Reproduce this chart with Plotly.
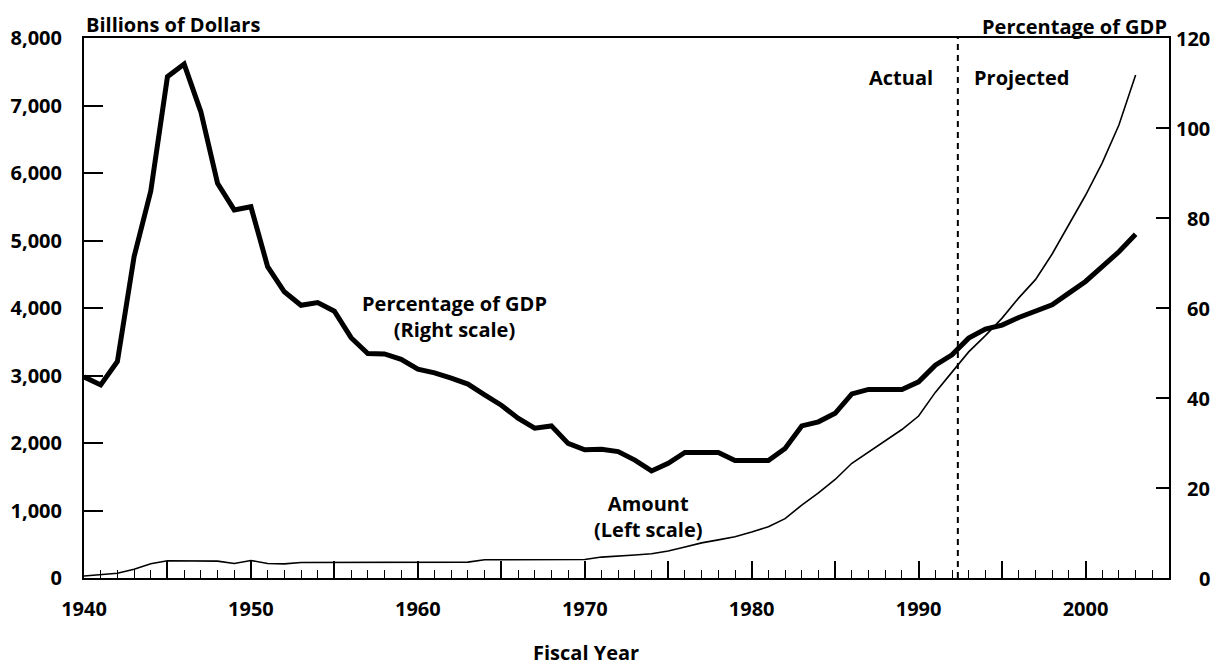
import plotly.graph_objects as go

years = list(range(1940, 2004))

pct_gdp = [44.7, 42.9, 48.1, 71.4, 86.0, 111.4, 114.2, 103.6, 87.7, 81.8,
           82.5, 69.2, 63.6, 60.6, 61.2, 59.3, 53.4, 49.9, 49.8, 48.6,
           46.4, 45.6, 44.4, 43.1, 40.7, 38.4, 35.5, 33.3, 33.8, 29.9,
           28.5, 28.6, 28.1, 26.2, 23.8, 25.5, 27.9, 27.9, 27.9, 26.1,
           26.1, 26.1, 28.8, 33.8, 34.7, 36.6, 40.9, 41.9, 41.9, 41.9,
           43.6, 47.3, 49.6, 53.3, 55.3, 56.2, 57.9, 59.3, 60.7, 63.3,
           65.9, 69.2, 72.5, 76.4]

amount = [30, 45, 70, 130, 210, 255, 250, 250, 250, 215,
          260, 215, 210, 230, 230, 230, 230, 230, 230, 230,
          230, 230, 230, 235, 270, 270, 270, 270, 270, 270,
          275, 310, 320, 340, 360, 400, 460, 520, 565, 610,
          680, 760, 880, 1080, 1260, 1460, 1700, 1870, 2040, 2200,
          2400, 2750, 3050, 3350, 3590, 3850, 4150, 4420, 4800, 5230,
          5670, 6150, 6710, 7450]

x_major_ticks = list(range(1940, 2006, 5))
x_tick_labels = [str(v) if v % 10 == 0 else "" for v in x_major_ticks]
left_ticks = [0, 1000, 2000, 3000, 4000, 5000, 6000, 7000, 8000]
left_tick_labels = ["0", "1,000", "2,000", "3,000", "4,000", "5,000", "6,000", "7,000", "8,000"]
right_ticks = [0, 20, 40, 60, 80, 100, 120]
right_tick_labels = ["0", "20", "40", "60", "80", "100", "120"]
split_year = 1992.35

FONT = "Open Sans"
FS = 20

fig = go.Figure()
fig.add_trace(go.Scatter(x=years, y=amount, mode="lines", yaxis="y",
                         line=dict(color="black", width=1.6), showlegend=False))
fig.add_trace(go.Scatter(x=years, y=pct_gdp, mode="lines", yaxis="y2",
                         line=dict(color="black", width=5), showlegend=False))

fig.update_layout(
    width=1216, height=666,
    margin=dict(l=84, r=47, t=38, b=88),
    paper_bgcolor="white", plot_bgcolor="white",
    font=dict(family=FONT, size=FS, color="black", weight="bold"),
    showlegend=False,
    xaxis=dict(range=[1940, 2005], tickvals=x_major_ticks, ticktext=x_tick_labels,
               ticks="inside", ticklen=17, tickwidth=1.6, tickcolor="black",
               minor=dict(dtick=1, tick0=1940, ticks="inside", ticklen=8, tickwidth=1.4, tickcolor="black"),
               showline=True, linecolor="black", linewidth=2, mirror=True,
               showgrid=False, zeroline=False, ticklabelstandoff=12,
               tickfont=dict(family=FONT, size=FS, weight="bold")),
    yaxis=dict(range=[0, 8000], tickvals=left_ticks, ticktext=left_tick_labels,
               ticks="inside", ticklen=19, tickwidth=1.6, tickcolor="black",
               showline=True, linecolor="black", linewidth=2, mirror=True,
               showgrid=False, zeroline=False, ticklabelstandoff=16,
               tickfont=dict(family=FONT, size=FS, weight="bold")),
    yaxis2=dict(range=[0, 120], overlaying="y", side="right", tickvals=right_ticks,
                showticklabels=False,
                ticks="inside", ticklen=13, tickwidth=1.6, tickcolor="black",
                showline=True, linecolor="black", linewidth=2,
                showgrid=False, zeroline=False),
)

fig.add_shape(type="line", xref="x", yref="paper", x0=split_year, x1=split_year, y0=0, y1=1,
              line=dict(color="black", width=2, dash="6px,5px"))

ann = []
for v, t in zip(right_ticks, right_tick_labels):
    ann.append(dict(xref="paper", yref="y2", x=1, y=v, xanchor="right", yanchor="middle",
                    xshift=43, text=t, showarrow=False))
ann += [
    dict(xref="paper", yref="paper", x=0, y=1, xanchor="left", yanchor="middle", yshift=14,
         text="Billions of Dollars", showarrow=False),
    dict(xref="paper", yref="paper", x=1, y=1, xanchor="right", yanchor="middle", yshift=12,
         text="Percentage of GDP", showarrow=False),
    dict(xref="x", yref="y", x=1988.95, y=7415, xanchor="center", yanchor="middle",
         text="Actual", showarrow=False),
    dict(xref="x", yref="y", x=1996.16, y=7415, xanchor="center", yanchor="middle",
         text="Projected", showarrow=False),
    dict(xref="x", yref="y", x=1962.2, y=3867, xanchor="center", yanchor="middle",
         text="Percentage of GDP<br>(Right scale)", showarrow=False),
    dict(xref="x", yref="y", x=1973.8, y=904, xanchor="center", yanchor="middle",
         text="Amount<br>(Left scale)", showarrow=False),
    dict(xref="x", yref="paper", x=1970.1, y=0, xanchor="center", yanchor="middle", yshift=-74,
         text="Fiscal Year", showarrow=False),
]
fig.update_layout(annotations=ann)

fig.write_html("out.html",
               config={"displayModeBar": False, "displaylogo": False},
               post_script="document.body.style.margin='0px';document.body.style.overflow='hidden';")
